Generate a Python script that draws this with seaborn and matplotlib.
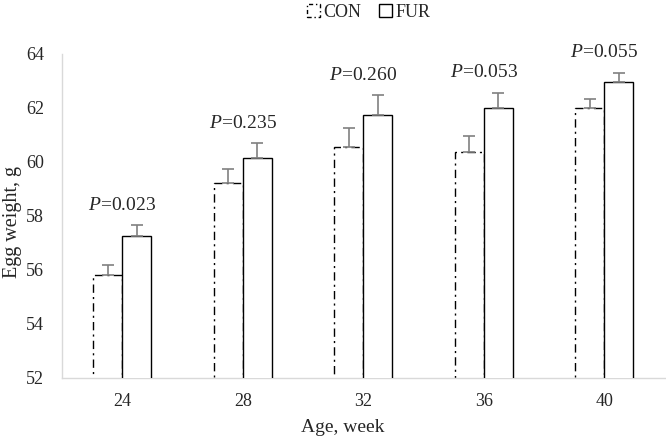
import numpy as np
import pandas as pd
import seaborn as sns
import matplotlib.pyplot as plt
from matplotlib.patches import Patch

# data
ages = ["24", "28", "32", "36", "40"]
con_mean = [55.81, 59.23, 60.54, 60.38, 62.00]
con_err = [0.38, 0.51, 0.71, 0.58, 0.33]
fur_mean = [57.26, 60.14, 61.74, 62.00, 62.96]
fur_err = [0.41, 0.55, 0.72, 0.56, 0.34]
p_labels = ["0.023", "0.235", "0.260", "0.053", "0.055"]

df = pd.DataFrame({
    "age": ages * 2,
    "weight": con_mean + fur_mean,
    "group": ["CON"] * len(ages) + ["FUR"] * len(ages),
})

sns.set_style("white")
plt.rcParams["font.family"] = ["Liberation Serif", "DejaVu Serif"]
plt.rcParams["mathtext.fontset"] = "custom"
plt.rcParams["mathtext.rm"] = "Liberation Serif"
plt.rcParams["mathtext.it"] = "Liberation Serif:italic"

fig = plt.figure(figsize=(6.66, 4.41), dpi=100)
ax = fig.add_axes([0.093, 0.143, 0.905, 0.735])

sns.barplot(data=df, x="age", y="weight", hue="group", order=ages,
            hue_order=["CON", "FUR"], width=0.48, errorbar=None,
            palette=["white", "white"], edgecolor="black",
            linewidth=1.0, legend=False, ax=ax)

for bar in ax.containers[0]:
    bar.set_linestyle((0, (6, 3, 1.5, 3)))
    bar.set_zorder(2)
for bar in ax.containers[1]:
    bar.set_zorder(3)

# upward-only error bars
for cont, means, errs in [(ax.containers[0], con_mean, con_err),
                          (ax.containers[1], fur_mean, fur_err)]:
    xs = [b.get_x() + b.get_width() / 2 for b in cont]
    ax.errorbar(xs, means, yerr=[np.zeros(len(errs)), errs], fmt="none",
                ecolor="#808080", elinewidth=1.2, capsize=4, capthick=1.2,
                zorder=4)

# P values above each pair
for i, p in enumerate(p_labels):
    y = fur_mean[i] + fur_err[i] + 0.73
    ax.text(i, y, r"$\mathit{P}$" + "=" + p, ha="center", va="center",
            fontsize=14, clip_on=False)

ax.set_ylim(52, 64)
ax.set_xlim(-0.5, 4.5)
ax.set_yticks(np.arange(52, 65, 2))
ax.tick_params(axis="both", length=0, labelsize=13)
ax.tick_params(axis="x", pad=11)
ax.tick_params(axis="y", pad=13)
ax.set_xlabel("Age, week", fontsize=14)
ax.xaxis.set_label_coords(0.466, -0.128)
ax.set_ylabel("Egg weight, g", fontsize=14.5)
ax.yaxis.set_label_coords(-0.066, 0.48)
for side in ["top", "right"]:
    ax.spines[side].set_visible(False)
for side in ["left", "bottom"]:
    ax.spines[side].set_color("#d9d9d9")
    ax.spines[side].set_linewidth(1.0)

handles = [Patch(facecolor="white", edgecolor="black", linestyle=(0, (3, 2, 1, 2)), label="CON"),
           Patch(facecolor="white", edgecolor="black", label="FUR")]
fig.legend(handles=handles, loc="center", bbox_to_anchor=(0.554, 0.972), ncol=2,
           frameon=False, fontsize=13, handlelength=0.7, handleheight=0.7,
           handletextpad=0.2, columnspacing=1.0)

fig.savefig("out.png", dpi=100)
